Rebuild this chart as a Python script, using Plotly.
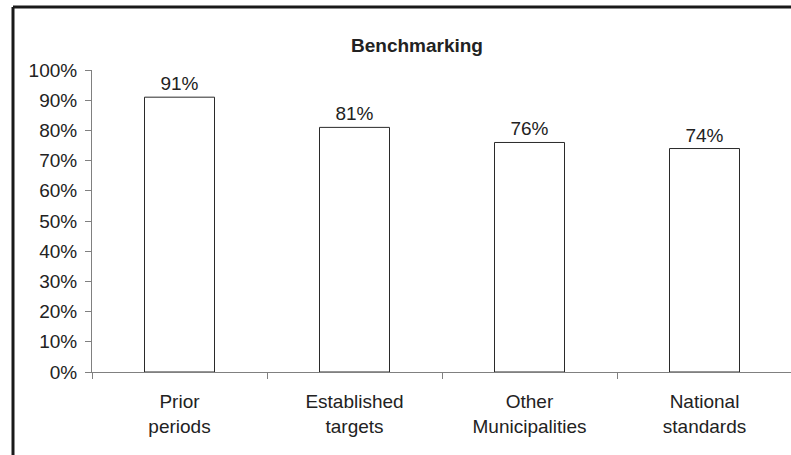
import plotly.graph_objects as go

categories = ["Prior<br>periods", "Established<br>targets", "Other<br>Municipalities", "National<br>standards"]
values = [0.91, 0.81, 0.76, 0.74]
title_text = "Benchmarking"

W, H = 791, 455
L, R, T, B = 92, 0, 70, 83
pw = W - L - R
ph = H - T - B

def px_to_paper_x(px):
    return (px - L) / pw

def px_to_paper_y(py):
    return (H - B - py) / ph

font = dict(family="Liberation Sans, Arial, sans-serif", size=19, color="#222222")

fig = go.Figure()
fig.add_trace(go.Bar(
    x=categories, y=values, width=0.4,
    marker=dict(color="white", line=dict(color="#2a2a2a", width=1)),
    texttemplate="%{y:.0%}", textposition="outside", cliponaxis=False,
    textfont=font,
))

fig.update_layout(
    width=W, height=H,
    margin=dict(l=L, r=R, t=T, b=B),
    paper_bgcolor="white", plot_bgcolor="white",
    font=font, showlegend=False,
    title=dict(text="<b>" + title_text + "</b>", x=417 / W, xanchor="center",
               y=1 - 45 / H, yanchor="middle", yref="container", xref="container",
               font=dict(family="Liberation Sans, Arial, sans-serif", size=19, color="#222222")),
    xaxis=dict(range=[-0.5, -0.5 + pw / 175], showline=True, linecolor="#808080", linewidth=1,
               ticks="outside", tickson="boundaries", ticklen=6, tickcolor="#808080",
               ticklabelstandoff=12,
               showgrid=False, zeroline=False, fixedrange=True),
    yaxis=dict(range=[0, 1], dtick=0.1, tickformat=".0%", showline=True, linecolor="#808080",
               linewidth=1, ticks="outside", ticklen=6, tickcolor="#808080",
               ticklabelstandoff=4,
               showgrid=False, zeroline=False, fixedrange=True),
    bargap=0.6,
)

# outer chart border (left and top edges visible)
bx = px_to_paper_x(13)
by_top = px_to_paper_y(7)
by_bot = px_to_paper_y(460)
fig.add_shape(type="line", xref="paper", yref="paper", x0=bx, x1=bx, y0=by_bot, y1=by_top,
              line=dict(color="#1a1a1a", width=3))
fig.add_shape(type="line", xref="paper", yref="paper", x0=bx, x1=px_to_paper_x(800), y0=by_top, y1=by_top,
              line=dict(color="#1a1a1a", width=3))

fig.write_html("out.html")
